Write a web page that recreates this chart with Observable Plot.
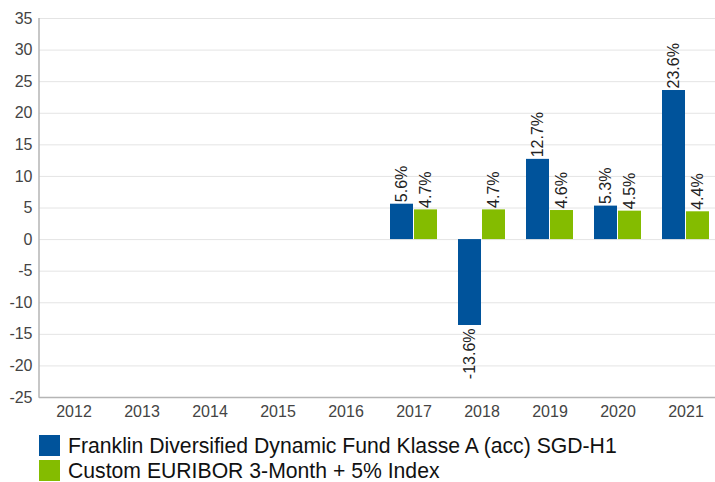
<!DOCTYPE html>
<html>
<head>
<meta charset="utf-8">
<script src="https://cdn.jsdelivr.net/npm/d3@7"></script>
<script src="https://cdn.jsdelivr.net/npm/@observablehq/plot@0.6"></script>
<style>
  html, body { margin: 0; padding: 0; background: #fff; }
  body { font-family: "Liberation Sans", Arial, sans-serif; width: 715px; }
  #legend { margin-top: 13px; }
  .row { display: flex; align-items: center; height: 25px; margin-left: 39px; }
  .sw { width: 21px; height: 21px; margin-right: 8px; flex: none; }
  .lt { font-size: 21.2px; color: #111; white-space: nowrap; line-height: 21px; }
</style>
</head>
<body>
<div id="chart"></div>
<div id="legend"></div>
<script>
const years = ["2012","2013","2014","2015","2016","2017","2018","2019","2020","2021"];
const fundValues = [null, null, null, null, null, 5.6, -13.6, 12.7, 5.3, 23.6];
const indexValues = [null, null, null, null, null, 4.7, 4.7, 4.6, 4.5, 4.4];
const seriesNames = ["Franklin Diversified Dynamic Fund Klasse A (acc) SGD-H1", "Custom EURIBOR 3-Month + 5% Index"];
const seriesColors = ["#00539b", "#84bc00"];
const yTicks = [-25, -20, -15, -10, -5, 0, 5, 10, 15, 20, 25, 30, 35];

const fund = years.map((y, i) => ({year: y, value: fundValues[i]})).filter(d => d.value != null);
const idx = years.map((y, i) => ({year: y, value: indexValues[i]})).filter(d => d.value != null);

const W = 715, H = 420, mL = 39, mR = -5, mT = 18, mB = 23;
const padInner = 0.31, padOuter = 0.155;
const step = (W - mL - mR) / (years.length - padInner + 2 * padOuter);
const bw = step * (1 - padInner);
const half = bw / 2 + 0.5;
const off = bw / 4 + 0.25;
const fmt = d => (d.value).toFixed(1) + "%";
const font = "Liberation Sans, Arial, sans-serif";

const chart = Plot.plot({
  width: W, height: H,
  marginLeft: mL, marginRight: mR, marginTop: mT, marginBottom: mB,
  style: {fontFamily: font, background: "#fff", overflow: "visible"},
  x: {type: "band", domain: years, paddingInner: padInner, paddingOuter: padOuter, label: null},
  y: {domain: [-25, 35], label: null},
  marks: [
    Plot.ruleY(yTicks, {stroke: "#e4e4e4", strokeWidth: 1}),
    Plot.ruleY([-25], {stroke: "#b5b5b5", strokeWidth: 1.5}),
    Plot.barY(fund, {x: "year", y: "value", fill: seriesColors[0], insetRight: half}),
    Plot.barY(idx, {x: "year", y: "value", fill: seriesColors[1], insetLeft: half}),
    Plot.text(fund.filter(d => d.value >= 0), {x: "year", y: "value", text: fmt, rotate: -90, textAnchor: "start", dx: -off, dy: -2, fontSize: 16, fill: "#222"}),
    Plot.text(fund.filter(d => d.value < 0), {x: "year", y: "value", text: fmt, rotate: -90, textAnchor: "end", dx: -off, dy: 3, fontSize: 16, fill: "#222"}),
    Plot.text(idx.filter(d => d.value >= 0), {x: "year", y: "value", text: fmt, rotate: -90, textAnchor: "start", dx: off, dy: -2, fontSize: 16, fill: "#222"}),
    Plot.text(idx.filter(d => d.value < 0), {x: "year", y: "value", text: fmt, rotate: -90, textAnchor: "end", dx: off, dy: 3, fontSize: 16, fill: "#222"}),
    Plot.axisY({ticks: yTicks, tickSize: 0, tickPadding: 7, fontSize: 16, fill: "#444", tickFormat: d => String(d)}),
    Plot.axisX({tickSize: 0, tickPadding: 8, fontSize: 16, fill: "#444"})
  ]
});

// left axis line along the y scale range
const yr = chart.scale("y").range;
d3.select(chart).append("line")
  .attr("x1", mL).attr("x2", mL)
  .attr("y1", Math.min(...yr)).attr("y2", Math.max(...yr) + 0.75)
  .attr("stroke", "#b5b5b5").attr("stroke-width", 1.5);

document.getElementById("chart").appendChild(chart);

const legend = document.getElementById("legend");
seriesNames.forEach((name, i) => {
  const row = document.createElement("div");
  row.className = "row";
  const sw = document.createElement("div");
  sw.className = "sw";
  sw.style.background = seriesColors[i];
  const lt = document.createElement("div");
  lt.className = "lt";
  lt.textContent = name;
  row.appendChild(sw); row.appendChild(lt);
  legend.appendChild(row);
});
</script>
</body>
</html>
